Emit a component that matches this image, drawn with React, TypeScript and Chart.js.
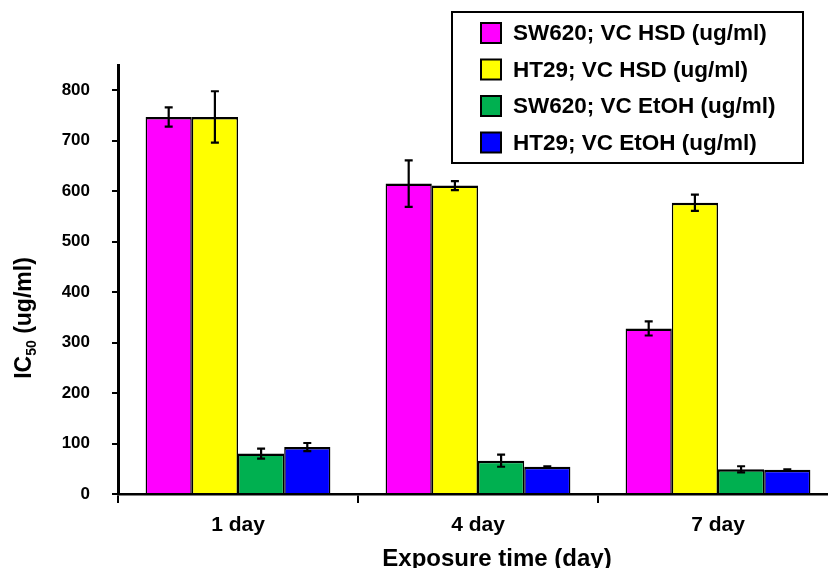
import React, { useEffect, useRef } from "react";
import { Chart, registerables } from "chart.js";

Chart.register(...registerables);

const categories = ["1 day", "4 day", "7 day"];
const seriesLabels = [
  "SW620; VC HSD (ug/ml)",
  "HT29; VC HSD (ug/ml)",
  "SW620; VC EtOH (ug/ml)",
  "HT29; VC EtOH (ug/ml)",
];
const seriesColors = ["#FF00FF", "#FFFF00", "#00B050", "#0000FF"];
const sw620Hsd = [747, 615, 328];
const ht29Hsd = [747, 611, 577];
const sw620EtOH = [80, 66, 49];
const ht29EtOH = [93, 54, 48];
const sw620HsdErr = [19, 46, 14];
const ht29HsdErr = [51, 9, 16];
const sw620EtOHErr = [10, 12, 6];
const ht29EtOHErr = [8, 1, 1];
const yTicks = [0, 100, 200, 300, 400, 500, 600, 700, 800];
const yMax = 850;
const xTitle = "Exposure time (day)";

const seriesValues = [sw620Hsd, ht29Hsd, sw620EtOH, ht29EtOH];
const seriesErrors = [sw620HsdErr, ht29HsdErr, sw620EtOHErr, ht29EtOHErr];

const FONT = "'Liberation Sans', Arial, sans-serif";

const errorBarPlugin = {
  id: "errorBars",
  afterDatasetsDraw(chart: any) {
    const ctx = chart.ctx;
    const y = chart.scales.y;
    ctx.save();
    ctx.strokeStyle = "#000";
    ctx.lineWidth = 2.2;
    chart.data.datasets.forEach((ds: any, i: number) => {
      const meta = chart.getDatasetMeta(i);
      meta.data.forEach((bar: any, j: number) => {
        const v = ds.data[j];
        const e = seriesErrors[i][j];
        const x = bar.x;
        const yt = y.getPixelForValue(v + e);
        const yb = y.getPixelForValue(v - e);
        ctx.beginPath();
        ctx.moveTo(x, yt);
        ctx.lineTo(x, yb);
        ctx.moveTo(x - 4, yt);
        ctx.lineTo(x + 4, yt);
        ctx.moveTo(x - 4, yb);
        ctx.lineTo(x + 4, yb);
        ctx.stroke();
      });
    });
    ctx.restore();
  },
};

const decorPlugin = {
  id: "decor",
  afterDraw(chart: any) {
    const ctx = chart.ctx;
    ctx.save();
    // legend box
    ctx.strokeStyle = "#000";
    ctx.lineWidth = 2;
    ctx.strokeRect(452, 12, 351, 151);
    ctx.font = `bold 22.5px ${FONT}`;
    ctx.textBaseline = "middle";
    ctx.textAlign = "left";
    chart.data.datasets.forEach((ds: any, i: number) => {
      const cy = 33 + i * 36.5;
      ctx.fillStyle = ds.backgroundColor;
      ctx.fillRect(481, cy - 10, 20, 20);
      ctx.strokeRect(481, cy - 10, 20, 20);
      ctx.fillStyle = "#000";
      ctx.fillText(ds.label, 513, cy + 1);
    });
    // y title with subscript
    ctx.translate(31, 318);
    ctx.rotate(-Math.PI / 2);
    ctx.fillStyle = "#000";
    ctx.textBaseline = "alphabetic";
    const big = `bold 23px ${FONT}`;
    const small = `bold 14px ${FONT}`;
    const p1 = "IC";
    const p2 = "50";
    const p3 = " (ug/ml)";
    ctx.font = big;
    const w1 = ctx.measureText(p1).width;
    const w3 = ctx.measureText(p3).width;
    ctx.font = small;
    const w2 = ctx.measureText(p2).width;
    const total = w1 + w2 + w3;
    let x0 = -total / 2;
    ctx.font = big;
    ctx.fillText(p1, x0, 0);
    x0 += w1;
    ctx.font = small;
    ctx.fillText(p2, x0, 5);
    x0 += w2;
    ctx.font = big;
    ctx.fillText(p3, x0, 0);
    ctx.setTransform(1, 0, 0, 1, 0, 0);
    // x title
    ctx.font = `bold 24px ${FONT}`;
    ctx.textAlign = "center";
    ctx.textBaseline = "alphabetic";
    ctx.fillText(xTitle, 497, 566);
    ctx.restore();
  },
};

export default function App() {
  const ref = useRef<HTMLCanvasElement>(null);
  useEffect(() => {
    if (!ref.current) return;
    const chart = new Chart(ref.current, {
      type: "bar",
      data: {
        labels: categories,
        datasets: seriesLabels.map((label, i) => ({
          label,
          data: seriesValues[i],
          backgroundColor: seriesColors[i],
          borderColor: "#000",
          borderWidth: { top: 2.5, left: 1.5, right: 1.5, bottom: 0 },
          categoryPercentage: 0.77,
          barPercentage: 1,
        })),
      },
      options: {
        responsive: false,
        animation: false,
        layout: { padding: { top: 65, right: 12, left: 0, bottom: 0 } },
        plugins: { legend: { display: false }, tooltip: { enabled: false }, title: { display: false } },
        scales: {
          x: {
            offset: true,
            grid: { display: true, offset: true, drawOnChartArea: false, drawTicks: true, tickLength: 9, color: "#000", lineWidth: 2 },
            border: { display: true, color: "#000", width: 2.5 },
            ticks: { color: "#000", font: { family: FONT, size: 21, weight: "bold" }, padding: 10 },
            afterFit: (s: any) => { s.height = 74; },
          },
          y: {
            min: 0,
            max: yMax,
            afterBuildTicks: (s: any) => { s.ticks = yTicks.map((v) => ({ value: v })); },
            grid: { display: true, drawOnChartArea: false, drawTicks: true, tickLength: 6, color: "#000", lineWidth: 2 },
            border: { display: true, color: "#000", width: 3 },
            ticks: { color: "#000", font: { family: FONT, size: 17, weight: "bold" }, padding: 22 },
            afterFit: (s: any) => { s.width = 118; },
          },
        },
      } as any,
      plugins: [errorBarPlugin, decorPlugin],
    });
    return () => chart.destroy();
  }, []);
  return (
    <div style={{ position: "absolute", left: 0, top: 0, width: 828, height: 568, overflow: "hidden", background: "#fff" }}>
      <canvas ref={ref} width={850} height={568} />
    </div>
  );
}
